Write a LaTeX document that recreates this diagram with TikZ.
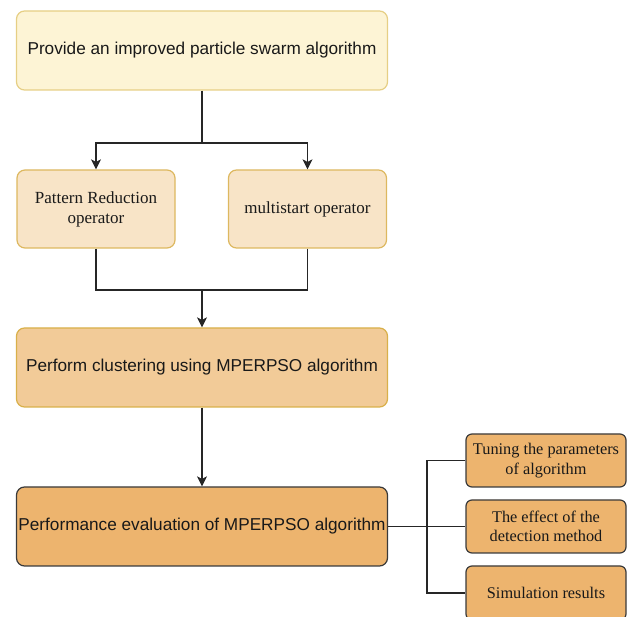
\documentclass[tikz,border=0pt]{standalone}
\usepackage{fontspec}
\setmainfont{Liberation Serif}
\setsansfont{Liberation Sans}
\usetikzlibrary{arrows.meta,positioning}
\definecolor{topfill}{HTML}{FDF4D5}
\definecolor{topline}{HTML}{E6CF85}
\definecolor{opfill}{HTML}{F8E4C7}
\definecolor{opline}{HTML}{DDB860}
\definecolor{clufill}{HTML}{F2CB98}
\definecolor{clufline}{HTML}{D9B04A}
\definecolor{evalfill}{HTML}{EDB46E}
\definecolor{darkline}{HTML}{3A3A3A}
\tikzset{
	box/.style={draw, rounded corners=8pt, line width=1.2pt, align=center,
		inner sep=0pt, text=black!90},
	bigbox/.style={box, minimum width=371pt, minimum height=79pt,
		font=\sffamily\fontsize{17.2}{20}\selectfont},
	opbox/.style={box, fill=opfill, draw=opline, minimum width=158pt,
		minimum height=78pt, font=\fontsize{17}{20}\selectfont},
	subbox/.style={box, rounded corners=6pt, fill=evalfill, draw=darkline,
		minimum width=160pt, minimum height=53pt,
		font=\fontsize{16.3}{19.5}\selectfont},
	conn/.style={line width=1.3pt, draw=black!85},
	arr/.style={conn, -{Stealth[length=10pt,width=10pt,inset=2.5pt]}}
}
\begin{document}
\begin{tikzpicture}[x=1pt,y=-1pt]
	\useasboundingbox (0,0) rectangle (633,617);
	\node[bigbox, fill=topfill, draw=topline] (top) at (202,50.5)
		{Provide an improved particle swarm algorithm};
	\node[opbox] (pr) at (96,209) {Pattern Reduction\\operator};
	\node[opbox] (ms) at (307.5,209) {multistart operator};
	\node[bigbox, fill=clufill, draw=clufline] (clu) at (202,367.5)
		{Perform clustering using MPERPSO algorithm};
	\node[bigbox, fill=evalfill, draw=darkline] (eval) at (202,526.5)
		{Performance evaluation of MPERPSO algorithm};
	\node[subbox] (tun) at (546,460.5) {Tuning the parameters\\of algorithm};
	\node[subbox] (eff) at (546,526.5) {The effect of the\\detection method};
	\node[subbox, minimum height=54pt] (sim) at (546,593) {Simulation results};

	\coordinate (fork) at (202,143);
	\coordinate (join) at (202,290);
	\coordinate (bus) at (427,0);

	\draw[conn] (top) -- (fork);
	\draw[arr] (fork) -| (pr);
	\draw[arr] (fork) -| (ms);
	\draw[conn] (pr) |- (join);
	\draw[conn] (ms) |- (join);
	\draw[arr] (join) -- (clu);
	\draw[arr] (clu) -- (eval);
	\draw[conn] (eval) -- (eff);
	\draw[conn] (tun.west) -- (tun.west -| bus) -- (sim.west -| bus) -- (sim.west);
\end{tikzpicture}
\end{document}
